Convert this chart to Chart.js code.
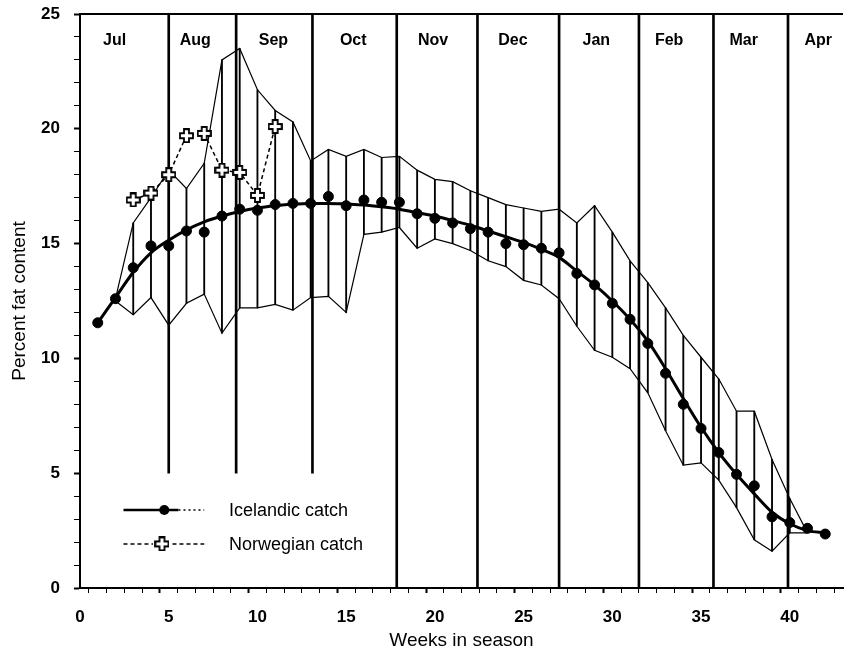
<!DOCTYPE html>
<html>
<head>
<meta charset="utf-8">
<script src="https://cdn.jsdelivr.net/npm/chart.js@4/dist/chart.umd.min.js"></script>
<style>
    body { margin: 0; background: #fff; }
</style>
</head>
<body>
<canvas id="chartPicture" width="857" height="652"></canvas>
<script>
// weeks in season
const weeks = [1,2,3,4,5,6,7,8,9,10,11,12,13,14,15,16,17,18,19,20,21,22,23,24,25,26,27,28,29,30,31,32,33,34,35,36,37,38,39,40,41,42];
const icelandic = [11.55,12.6,13.95,14.9,14.9,15.55,15.5,16.2,16.5,16.45,16.7,16.75,16.75,17.05,16.65,16.9,16.8,16.8,16.3,16.1,15.9,15.65,15.5,15.0,14.95,14.8,14.6,13.7,13.2,12.4,11.7,10.65,9.35,8.0,6.95,5.9,4.95,4.45,3.1,2.85,2.6,2.35];
const fittedCurve = [11.55,12.65,13.75,14.6,15.15,15.6,15.95,16.2,16.4,16.55,16.65,16.72,16.75,16.75,16.72,16.68,16.6,16.5,16.35,16.2,16.0,15.8,15.55,15.3,15.05,14.75,14.4,13.8,13.2,12.5,11.7,10.75,9.55,8.25,7.0,5.9,4.95,4.1,3.3,2.8,2.5,2.4];

// range band, weeks 2..41
const rangeWeeks = [2,3,4,5,6,7,8,9,10,11,12,13,14,15,16,17,18,19,20,21,22,23,24,25,26,27,28,29,30,31,32,33,34,35,36,37,38,39,40,41];
const rangeHigh = [12.6,15.9,17.0,18.2,17.4,18.5,23.0,23.5,21.7,20.8,20.3,18.6,19.1,18.8,19.1,18.75,18.8,18.2,17.8,17.7,17.3,17.0,16.7,16.55,16.4,16.5,15.9,16.65,15.5,14.25,13.3,12.2,11.0,10.05,9.1,7.7,7.7,5.6,3.9,2.4];
const rangeLow = [12.5,11.9,12.65,11.45,12.4,12.8,11.1,12.2,12.2,12.35,12.1,12.65,12.7,12.0,15.4,15.5,15.7,14.8,15.2,15.0,14.7,14.25,14.0,13.4,13.2,12.6,11.4,10.35,10.05,9.55,8.5,6.85,5.35,5.45,4.7,3.5,2.1,1.6,2.4,2.4];

const norwegianWeeks = [3,4,5,6,7,8,9,10,11];
const norwegian = [16.9,17.2,18.0,19.7,19.8,18.2,18.1,17.1,20.1];

// month boundaries (week) and where each line stops at the bottom
const monthEdges = [5,8.8,13.1,17.85,22.4,27,31.5,35.7,39.9];
const monthEdgeBottoms = [5,5,5,0,0,0,0,0,0];
const monthNames = ["Jul","Aug","Sep","Oct","Nov","Dec","Jan","Feb","Mar","Apr"];
const monthLabelWeeks = [1.95,6.5,10.9,15.4,19.9,24.4,29.1,33.2,37.4,41.6];

const FONT = "'Liberation Sans', Arial, sans-serif";

function makeCross(size)
{
    const c = document.createElement("canvas");
    c.width = size;
    c.height = size;
    const g = c.getContext("2d");
    const w = Math.round(size * 0.36);
    const m = 1, s = size - 1, p = (size - w) / 2, q = p + w;
    g.beginPath();
    g.moveTo(p, m); g.lineTo(q, m); g.lineTo(q, p); g.lineTo(s, p); g.lineTo(s, q); g.lineTo(q, q);
    g.lineTo(q, s); g.lineTo(p, s); g.lineTo(p, q); g.lineTo(m, q); g.lineTo(m, p); g.lineTo(p, p);
    g.closePath();
    g.fillStyle = "#fff";
    g.fill();
    g.lineWidth = 1.8;
    g.strokeStyle = "#000";
    g.stroke();
    return c;
}
const crossImage = makeCross(15);

const extrasPlugin =
{
    id: "extras",
    afterDatasetsDraw(chart)
    {
        const ctx = chart.ctx;
        const x = chart.scales.x;
        const y = chart.scales.y;
        const area = chart.chartArea;
        ctx.save();
        // top frame line
        ctx.strokeStyle = "#000";
        ctx.lineWidth = 2;
        ctx.beginPath();
        ctx.moveTo(area.left, area.top);
        ctx.lineTo(area.right, area.top);
        ctx.stroke();

        // month names
        ctx.fillStyle = "#000";
        ctx.font = "bold 16px " + FONT;
        ctx.textAlign = "center";
        ctx.textBaseline = "middle";
        monthNames.forEach((name, i) =>
        {
            ctx.fillText(name, x.getPixelForValue(monthLabelWeeks[i]), y.getPixelForValue(23.85));
        });

        // legend
        const y1 = y.getPixelForValue(3.4);
        const y2 = y.getPixelForValue(1.92);
        const xs = x.getPixelForValue(2.45);
        const xe = x.getPixelForValue(7.0);
        ctx.lineWidth = 2.5;
        ctx.beginPath();
        ctx.moveTo(xs, y1);
        ctx.lineTo(x.getPixelForValue(5.55), y1);
        ctx.stroke();
        ctx.lineWidth = 1.5;
        ctx.setLineDash([2, 3]);
        ctx.beginPath();
        ctx.moveTo(x.getPixelForValue(5.55), y1);
        ctx.lineTo(xe, y1);
        ctx.stroke();
        ctx.beginPath();
        ctx.arc(x.getPixelForValue(4.75), y1, 5, 0, Math.PI * 2);
        ctx.setLineDash([]);
        ctx.fill();

        ctx.setLineDash([4, 3]);
        ctx.lineWidth = 1.5;
        ctx.beginPath();
        ctx.moveTo(xs, y2);
        ctx.lineTo(xe, y2);
        ctx.stroke();
        ctx.setLineDash([]);
        const cx = x.getPixelForValue(4.62);
        ctx.fillStyle = "#fff";
        ctx.fillRect(cx - 9, y2 - 3, 18, 6);
        ctx.drawImage(crossImage, cx - 7.5, y2 - 7.5);

        ctx.fillStyle = "#000";
        ctx.font = "18px " + FONT;
        ctx.textAlign = "left";
        ctx.fillText("Icelandic catch", x.getPixelForValue(8.4), y1 + 1);
        ctx.fillText("Norwegian catch", x.getPixelForValue(8.4), y2 + 1);
        ctx.restore();
    }
};

const context = document.getElementById("chartPicture");

const configObject =
{
    type: "line",
    data:
    {
        datasets:
        [
            {
                type: "line",
                label: "Icelandic catch",
                data: weeks.map((w, i) => ({x: w, y: icelandic[i]})),
                showLine: false,
                pointRadius: 5,
                pointBackgroundColor: "#000",
                pointBorderColor: "#000",
                order: 1,
            },
            {
                type: "line",
                label: "fit",
                data: weeks.map((w, i) => ({x: w, y: fittedCurve[i]})),
                borderColor: "#000",
                borderWidth: 3,
                pointRadius: 0,
                cubicInterpolationMode: "monotone",
                order: 2,
            },
            {
                type: "line",
                label: "Norwegian catch",
                data: norwegianWeeks.map((w, i) => ({x: w, y: norwegian[i]})),
                borderColor: "#000",
                borderWidth: 1.5,
                borderDash: [4, 3],
                pointStyle: crossImage,
                pointRadius: 7,
                order: 3,
            },
            {
                type: "line",
                label: "high",
                data: rangeWeeks.map((w, i) => ({x: w, y: rangeHigh[i]})),
                borderColor: "#000",
                borderWidth: 1.2,
                pointRadius: 0,
                order: 4,
            },
            {
                type: "line",
                label: "low",
                data: rangeWeeks.map((w, i) => ({x: w, y: rangeLow[i]})),
                borderColor: "#000",
                borderWidth: 1.2,
                pointRadius: 0,
                order: 4,
            },
            {
                type: "bar",
                label: "range",
                data: rangeWeeks.map((w, i) => ({x: w, y: [rangeLow[i], rangeHigh[i]]})),
                backgroundColor: "#000",
                barThickness: 1.2,
                grouped: false,
                order: 5,
            },
            {
                type: "bar",
                label: "months",
                data: monthEdges.map((w, i) => ({x: w, y: [monthEdgeBottoms[i], 25]})),
                backgroundColor: "#000",
                barThickness: 2,
                grouped: false,
                order: 6,
            },
        ],
    },
    options:
    {
        responsive: false,
        animation: false,
        layout: { padding: { top: 0, right: 9, left: 0, bottom: 0 } },
        plugins:
        {
            legend: { display: false },
            tooltip: { enabled: false },
        },
        scales:
        {
            x:
            {
                type: "linear",
                min: 0,
                max: 43,
                offset: false,
                afterFit: (scale) => { scale.height = 64; },
                border: { color: "#000", width: 2 },
                grid: { drawOnChartArea: false, tickLength: 5, tickColor: "#000", tickWidth: (c) => (c.tick && c.tick.value % 5 === 0 ? 2 : 1) },
                ticks:
                {
                    stepSize: 1,
                    autoSkip: false,
                    maxRotation: 0,
                    padding: 14,
                    color: "#000",
                    font: { family: FONT, size: 17, weight: "bold" },
                    callback: (v) => (v % 5 === 0 ? v : ""),
                },
                title:
                {
                    display: true,
                    text: "Weeks in season",
                    color: "#000",
                    font: { family: FONT, size: 19 },
                    padding: { top: 0, bottom: 0 },
                },
            },
            y:
            {
                min: 0,
                max: 25,
                afterFit: (scale) =>
                {
                    scale.width = 80;
                    scale.paddingTop = 14;
                    scale.paddingBottom = 0;
                },
                border: { color: "#000", width: 2 },
                grid: { drawOnChartArea: false, tickLength: 6, tickColor: "#000", tickWidth: (c) => (c.tick && c.tick.value % 5 === 0 ? 2 : 1) },
                ticks:
                {
                    stepSize: 1,
                    autoSkip: false,
                    padding: 14,
                    color: "#000",
                    font: { family: FONT, size: 17, weight: "bold" },
                    callback: (v) => (v % 5 === 0 ? v : ""),
                },
                title:
                {
                    display: true,
                    text: "Percent fat content",
                    color: "#000",
                    font: { family: FONT, size: 19 },
                    padding: { top: 8, bottom: 0 },
                },
            },
        },
    },
    plugins: [extrasPlugin],
};

const myChart = new Chart(context, configObject);
</script>
</body>
</html>
